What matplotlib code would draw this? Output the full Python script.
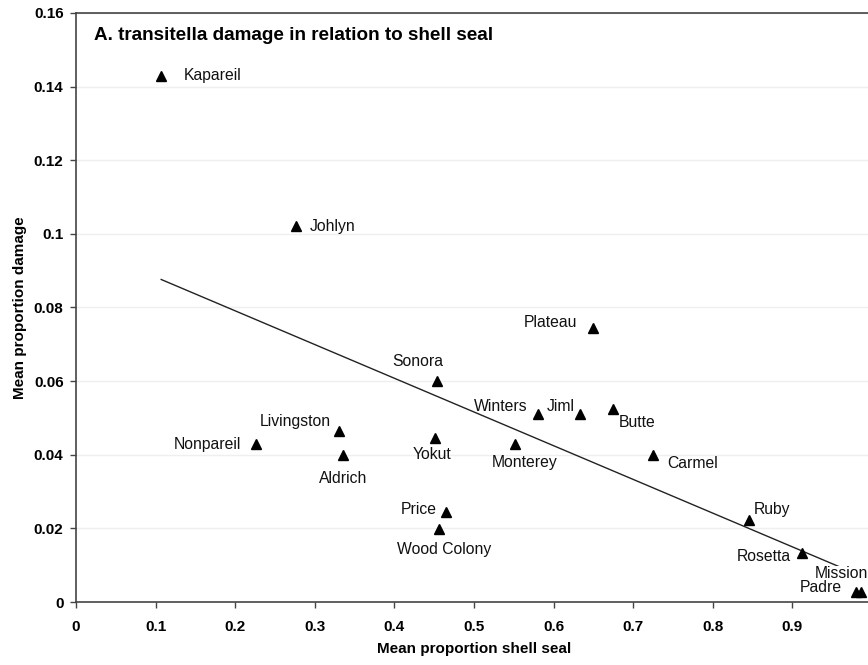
import numpy as np
import matplotlib
matplotlib.use("Agg")
from matplotlib import pyplot as plt

plt.rcParams['font.family'] = ['Liberation Sans', 'DejaVu Sans']

# cultivar, mean proportion shell seal, mean proportion damage
cultivars = ["Kapareil", "Johlyn", "Plateau", "Sonora", "Winters", "Jiml", "Butte",
             "Livingston", "Nonpareil", "Aldrich", "Yokut", "Monterey", "Price",
             "Wood Colony", "Carmel", "Ruby", "Rosetta", "Mission", "Padre"]
shell_seal = [0.107, 0.276, 0.649, 0.454, 0.580, 0.633, 0.675,
              0.331, 0.2265, 0.336, 0.451, 0.5515, 0.465,
              0.456, 0.725, 0.846, 0.912, 0.986, 0.980]
damage = [0.1429, 0.1021, 0.0744, 0.0601, 0.0511, 0.0511, 0.0525,
          0.0465, 0.0429, 0.0400, 0.0446, 0.0429, 0.0245,
          0.0198, 0.0399, 0.0222, 0.0132, 0.0028, 0.0028]

# label placement: (dx, dy) in points, horizontal alignment
label_pos = {
    "Kapareil": (16, 0, "left"), "Johlyn": (10, 0, "left"),
    "Plateau": (-11, 4, "right"), "Sonora": (-14, 14, "center"),
    "Winters": (-7, 5, "right"), "Jiml": (-4, 5, "right"),
    "Butte": (4, -10, "left"), "Livingston": (-6, 7, "right"),
    "Nonpareil": (-11, 0, "right"), "Aldrich": (0, -17, "center"),
    "Yokut": (-2, -12, "center"), "Monterey": (7, -13, "center"),
    "Price": (-7, 2, "right"), "Wood Colony": (4, -15, "center"),
    "Carmel": (10, -6, "left"), "Ruby": (3, 8, "left"),
    "Rosetta": (-8, -2, "right"), "Mission": (5, 13, "right"),
    "Padre": (-10, 3, "right"),
}

x = np.array(shell_seal)
y = np.array(damage)

fig = plt.figure(figsize=(8.68, 6.65), dpi=100)
ax = fig.add_axes([0.0876, 0.0947, 0.9170, 0.8858])

for yy in np.arange(0.02, 0.161, 0.02):
    ax.axhline(yy, color='#efefef', lw=1, zorder=0)

# linear trend line
slope, intercept = np.polyfit(x, y, 1)
xl = np.array([x.min(), x.max()])
ax.plot(xl, slope * xl + intercept, color='#222222', lw=1, zorder=2)

ax.plot(x, y, '^', color='black', ms=6.5, zorder=3, clip_on=False)

for name, xi, yi in zip(cultivars, x, y):
    dx, dy, ha = label_pos[name]
    bbox = dict(facecolor='white', edgecolor='none', pad=0.5) if name == "Mission" else None
    ax.annotate(name, (xi, yi), xytext=(dx, dy), textcoords='offset points',
                ha=ha, va='center', fontsize=11.3, color='#111111', bbox=bbox, zorder=4)

ax.text(0.023, 0.962, "A. transitella damage in relation to shell seal",
        transform=ax.transAxes, fontsize=13.6, fontweight='bold', va='center', ha='left')

ax.set_xlim(0, 1)
ax.set_ylim(0, 0.16)
ax.set_xticks(np.arange(0, 1.01, 0.1))
ax.set_xticklabels(["0", "0.1", "0.2", "0.3", "0.4", "0.5", "0.6", "0.7", "0.8", "0.9", "1"])
ax.set_yticks(np.arange(0, 0.161, 0.02))
ax.set_yticklabels(["0", "0.02", "0.04", "0.06", "0.08", "0.1", "0.12", "0.14", "0.16"])
for lab in ax.get_xticklabels() + ax.get_yticklabels():
    lab.set_fontweight('bold')
ax.tick_params(labelsize=11, length=4, width=1, color='#444444')
ax.tick_params(axis='x', pad=9)
ax.tick_params(axis='y', pad=5)

for sp in ax.spines.values():
    sp.set_color('#444444')
    sp.set_linewidth(1.2)

ax.set_xlabel("Mean proportion shell seal", fontsize=11, fontweight='bold', labelpad=6)
ax.set_ylabel("Mean proportion damage", fontsize=11, fontweight='bold', labelpad=5)

fig.savefig("out.png", dpi=100)
